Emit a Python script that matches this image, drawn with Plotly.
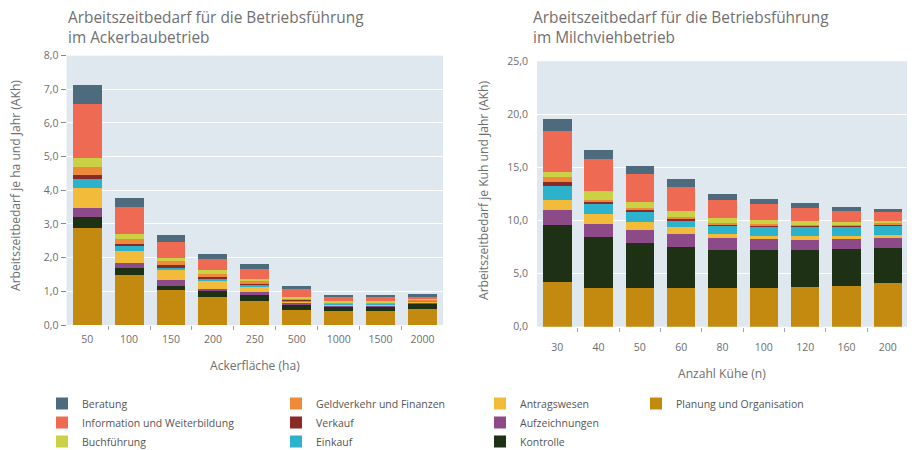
import plotly.graph_objects as go

# ---------------- data ----------------
ackerflaeche = ["50", "100", "150", "200", "250", "500", "1000", "1500", "2000"]
kuehe = ["30", "40", "50", "60", "80", "100", "120", "160", "200"]

# stacking order bottom -> top
series = [
    "Planung und Organisation", "Kontrolle", "Aufzeichnungen", "Antragswesen",
    "Einkauf", "Verkauf", "Geldverkehr und Finanzen", "Buchführung",
    "Information und Weiterbildung", "Beratung",
]
colors = ["#c48a10", "#1e3114", "#8c4a88", "#f3bb3a", "#2cb3cb",
          "#8a2a26", "#ee8a3a", "#cbd145", "#ee6a52", "#4e6b7e"]
legend_of = ["legend4", "legend3", "legend3", "legend3", "legend2",
             "legend2", "legend2", "legend", "legend", "legend"]

acker_planung = [2.88, 1.49, 1.04, 0.84, 0.70, 0.45, 0.42, 0.42, 0.49]
acker_kontrolle = [0.33, 0.20, 0.12, 0.17, 0.22, 0.18, 0.15, 0.15, 0.17]
acker_aufzeichnungen = [0.27, 0.15, 0.18, 0.06, 0.05, 0.03, 0.02, 0.02, 0.02]
acker_antragswesen = [0.60, 0.35, 0.30, 0.25, 0.18, 0.06, 0.04, 0.04, 0.03]
acker_einkauf = [0.27, 0.15, 0.08, 0.06, 0.05, 0.03, 0.02, 0.02, 0.02]
acker_verkauf = [0.09, 0.08, 0.05, 0.04, 0.03, 0.02, 0.01, 0.01, 0.01]
acker_geldverkehr = [0.24, 0.12, 0.12, 0.10, 0.08, 0.04, 0.03, 0.03, 0.02]
acker_buchfuehrung = [0.27, 0.15, 0.10, 0.10, 0.06, 0.03, 0.02, 0.02, 0.02]
acker_information = [1.60, 0.80, 0.47, 0.33, 0.30, 0.22, 0.15, 0.12, 0.06]
acker_beratung = [0.57, 0.28, 0.22, 0.16, 0.14, 0.10, 0.03, 0.06, 0.08]

milch_planung = [4.20, 3.65, 3.65, 3.65, 3.65, 3.65, 3.75, 3.85, 4.10]
milch_kontrolle = [5.40, 4.80, 4.20, 3.90, 3.60, 3.55, 3.45, 3.45, 3.30]
milch_aufzeichnungen = [1.35, 1.25, 1.25, 1.20, 1.10, 1.05, 1.00, 0.95, 0.95]
milch_antragswesen = [0.95, 0.95, 0.80, 0.60, 0.35, 0.30, 0.30, 0.30, 0.30]
milch_einkauf = [1.35, 0.95, 0.95, 0.65, 0.80, 0.90, 0.90, 0.85, 0.85]
milch_verkauf = [0.35, 0.15, 0.15, 0.15, 0.10, 0.10, 0.10, 0.10, 0.10]
milch_geldverkehr = [0.45, 0.15, 0.15, 0.15, 0.15, 0.15, 0.12, 0.12, 0.12]
milch_buchfuehrung = [0.55, 0.85, 0.60, 0.55, 0.45, 0.35, 0.30, 0.28, 0.25]
milch_information = [3.80, 3.00, 2.65, 2.35, 1.75, 1.50, 1.25, 1.00, 0.80]
milch_beratung = [1.20, 0.85, 0.70, 0.75, 0.55, 0.50, 0.50, 0.35, 0.35]

acker = [acker_planung, acker_kontrolle, acker_aufzeichnungen, acker_antragswesen,
         acker_einkauf, acker_verkauf, acker_geldverkehr, acker_buchfuehrung,
         acker_information, acker_beratung]
milch = [milch_planung, milch_kontrolle, milch_aufzeichnungen, milch_antragswesen,
         milch_einkauf, milch_verkauf, milch_geldverkehr, milch_buchfuehrung,
         milch_information, milch_beratung]

# ---------------- figure ----------------
W, H = 915, 450
OFF = 8  # page body margin of the html page
def px(x): return (x - OFF) / W
def py(y): return 1 - (y - OFF) / H

FONT = "Open Sans"
GREY = "#6e6e6e"

fig = go.Figure()
for name, col, lg, a, m in zip(series, colors, legend_of, acker, milch):
    fig.add_trace(go.Bar(x=ackerflaeche, y=a, name=name, marker_color=col,
                         marker_line_width=0, xaxis="x", yaxis="y",
                         legend=lg, showlegend=True))
    fig.add_trace(go.Bar(x=kuehe, y=m, name=name, marker_color=col,
                         marker_line_width=0, xaxis="x2", yaxis="y2",
                         legend=lg, showlegend=False))

axis_common = dict(tickfont=dict(family=FONT, size=10.5, color=GREY),
                   showline=False, zeroline=False, automargin=False)

legend_common = dict(orientation="v", xanchor="left", yanchor="top",
                     traceorder="reversed", bgcolor="rgba(0,0,0,0)",
                     font=dict(family=FONT, size=10.5, color="#555555"),
                     itemwidth=30, tracegroupgap=0)

fig.update_layout(
    width=W, height=H,
    margin=dict(l=0, r=0, t=0, b=0, pad=0, autoexpand=False),
    paper_bgcolor="white", plot_bgcolor="#dfe7ef",
    barmode="stack", bargap=0.31,
    separators=",.",
    font=dict(family=FONT, color=GREY),
    xaxis=dict(domain=[px(66.6), px(443)], type="category", range=[-0.49, 8.49],
               ticks="outside", tickson="boundaries", ticklen=4,
               tickcolor="#9aa0b8", showgrid=False, anchor="y",
               ticklabelstandoff=6, **axis_common),
    yaxis=dict(domain=[py(325), py(55.6)], range=[0, 8], dtick=1,
               tickformat=".1f", ticks="outside", ticklen=5, tickcolor="#888888",
               gridcolor="white", gridwidth=1.2, anchor="x", **axis_common),
    xaxis2=dict(domain=[px(537), px(908)], type="category", range=[-0.49, 8.49],
                ticks="outside", tickson="boundaries", ticklen=4,
                tickcolor="#9aa0d0", showgrid=False, anchor="y2",
                ticklabelstandoff=13, **axis_common),
    yaxis2=dict(domain=[py(326.7), py(61.2)], range=[0, 25], dtick=5,
                tickformat=".1f", ticks="", gridcolor="white", gridwidth=1.2,
                anchor="x2", ticklabelstandoff=8, **axis_common),
    legend=dict(x=px(42), y=py(389), **legend_common),
    legend2=dict(x=px(276), y=py(389), **legend_common),
    legend3=dict(x=px(480), y=py(389), **legend_common),
    legend4=dict(x=px(636), y=py(389), **legend_common),
)

title_font = dict(family=FONT, size=15.4, color="#707070")
label_font = dict(family=FONT, size=12.1, color=GREY)
annotations = [
    dict(text="Arbeitszeitbedarf für die Betriebsführung<br>im Ackerbaubetrieb",
         x=px(66), y=py(27.5), xanchor="left", yanchor="middle", align="left",
         font=title_font),
    dict(text="Arbeitszeitbedarf für die Betriebsführung<br>im Milchviehbetrieb",
         x=px(531), y=py(27.5), xanchor="left", yanchor="middle", align="left",
         font=title_font),
    dict(text="Arbeitszeitbedarf je ha und Jahr (AKh)", textangle=-90,
         x=px(15), y=py(186), xanchor="center", yanchor="middle", font=label_font),
    dict(text="Arbeitszeitbedarf je Kuh und Jahr (AKh)", textangle=-90,
         x=px(483), y=py(191), xanchor="center", yanchor="middle", font=label_font),
    dict(text="Ackerfläche (ha)", x=px(255), y=py(365), xanchor="center",
         yanchor="middle", font=label_font),
    dict(text="Anzahl Kühe (n)", x=px(722), y=py(373), xanchor="center",
         yanchor="middle", font=label_font),
]
for a in annotations:
    a.update(xref="paper", yref="paper", showarrow=False)
fig.update_layout(annotations=annotations)

fig.write_html("out.html")
